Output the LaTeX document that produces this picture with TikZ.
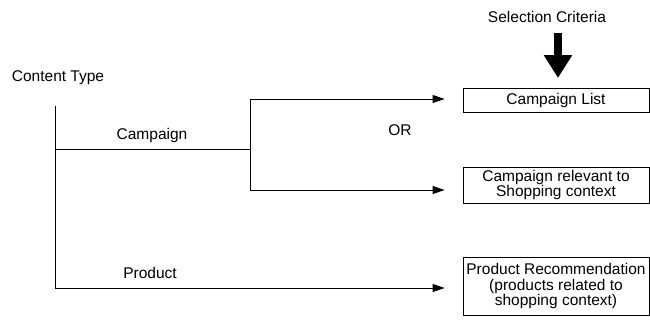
\documentclass[tikz,border=0pt]{standalone}
\usepackage{fontspec}
\setmainfont{Liberation Sans}
\usetikzlibrary{arrows.meta, positioning, calc}

\begin{document}
\begin{tikzpicture}[x=1pt, y=-1pt,
    font=\fontsize{15.5}{15.5}\selectfont,
    wire/.style={line width=1pt},
    feed/.style={wire, -{Triangle[length=12pt, width=8pt]}, shorten >=18pt},
    outbox/.style={draw, line width=0.9pt, minimum width=186pt, inner sep=1pt, align=center}]
  \useasboundingbox (0,0) rectangle (650,325);
  % Source and trunk
  \node (ctype) at (58,78) {Content Type};
  \coordinate (trunktop) at (55,106);
  \coordinate (trunkbot) at (55,288);
  \coordinate (camp) at (55,149);
  \draw[wire] (trunktop) -- (trunkbot);
  % Campaign branch
  \coordinate (split) at (250,149);
  \coordinate (splittop) at (250,99);
  \coordinate (splitbot) at (250,190);
  \draw[wire] (camp) -- (split);
  \draw[wire] (splittop) -- (splitbot);
  \node (camplbl) at (152,135) {Campaign};
  \node (or) at (400,130) {OR};
  % Target boxes
  \node[outbox, minimum height=24pt] (list) at (556,100) {Campaign List};
  \node[outbox, minimum height=36pt] (rel) at (556,185) {Campaign relevant to\\Shopping context};
  \node[outbox, minimum height=58pt] (prod) at (556,286) {Product Recommendation\\(products related to\\shopping context)};
  \draw[feed] (splittop) -- (list.west |- splittop);
  \draw[feed] (splitbot) -- (rel.west |- splitbot);
  % Product branch
  \node (prodlbl) at (150,273) {Product};
  \draw[feed] (trunkbot) -- (prod.west |- trunkbot);
  % Selection criteria
  \node (crit) at (547,17) {Selection Criteria};
  \coordinate (critfrom) at (558,33);
  \coordinate (critto) at (558,78);
  \draw[line width=8pt, -{Triangle[length=23pt, width=27pt]}] (critfrom) -- (critto);
\end{tikzpicture}
\end{document}
